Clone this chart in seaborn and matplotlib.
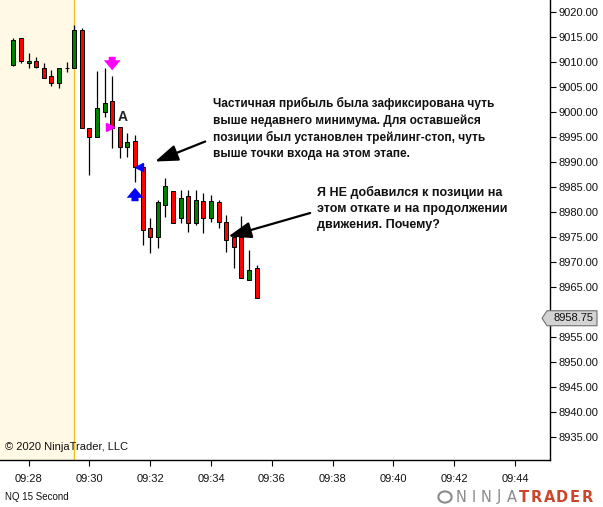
import numpy as np
import pandas as pd
import matplotlib
matplotlib.use("Agg")
import matplotlib.pyplot as plt
import matplotlib.transforms as mtransforms
from matplotlib.patches import Polygon, Circle
import seaborn as sns

# ---------------- data ----------------
times = ["09:27:30", "09:27:45", "09:28:00", "09:28:15", "09:28:30", "09:28:45",
         "09:29:00", "09:29:15", "09:29:30", "09:29:45", "09:30:00", "09:30:15",
         "09:30:30", "09:30:45", "09:31:00", "09:31:15", "09:31:30", "09:31:45",
         "09:32:00", "09:32:15", "09:32:30", "09:32:45", "09:33:00", "09:33:15",
         "09:33:30", "09:33:45", "09:34:00", "09:34:15", "09:34:30", "09:34:45",
         "09:35:00", "09:35:15", "09:35:30"]
opens = [9009.50, 9014.75, 9009.75, 9010.25, 9008.75, 9007.25, 9005.75, 9008.75,
         9008.75, 9016.50, 8996.75, 8995.00, 9000.00, 9002.25, 8997.00, 8993.00,
         8994.25, 8989.00, 8976.75, 8975.00, 8981.50, 8984.25, 8978.75, 8983.25,
         8977.75, 8982.25, 8978.75, 8982.00, 8978.00, 8975.00, 8975.00, 8966.50,
         8968.75]
highs = [9014.75, 9014.75, 9011.75, 9011.00, 9009.75, 9008.50, 9008.75, 9010.00,
         9017.50, 9016.75, 8996.75, 9008.25, 9008.75, 9007.25, 8997.00, 8995.75,
         8995.50, 8989.00, 8978.75, 8982.50, 8986.75, 8984.25, 8984.50, 8984.50,
         8984.50, 8983.75, 8983.50, 8982.50, 8979.50, 8975.50, 8979.25, 8972.50,
         8969.50]
lows = [9009.25, 9009.75, 9008.75, 9008.75, 9006.75, 9005.25, 9004.75, 9008.00,
        9008.75, 8996.75, 8987.50, 8995.00, 8999.00, 8992.75, 8990.75, 8991.00,
        8986.00, 8973.50, 8971.75, 8972.75, 8979.00, 8977.75, 8977.75, 8976.00,
        8977.50, 8975.75, 8978.00, 8976.75, 8972.00, 8968.75, 8966.75, 8966.50,
        8962.75]
closes = [9014.50, 9010.25, 9010.25, 9009.00, 9006.75, 9005.75, 9008.75, 9008.75,
          9016.50, 8996.75, 8995.00, 9000.75, 9001.75, 8996.75, 8993.00, 8994.00,
          8989.00, 8976.50, 8975.00, 8982.00, 8985.25, 8977.75, 8982.75, 8977.75,
          8982.50, 8978.75, 8982.25, 8978.00, 8974.50, 8973.00, 8966.75, 8968.50,
          8962.75]

price_ticks = [9020, 9015, 9010, 9005, 9000, 8995, 8990, 8985, 8980, 8975, 8970,
               8965, 8960, 8955, 8950, 8945, 8940, 8935]
time_ticks = ["09:28", "09:30", "09:32", "09:34", "09:36", "09:38", "09:40",
              "09:42", "09:44"]
last_price = 8958.75
session_start = "09:29:30"

note1 = ("Частичная прибыль была зафиксирована чуть\n"
         "выше недавнего минимума. Для оставшейся\n"
         "позиции был установлен трейлинг-стоп, чуть\n"
         "выше точки входа на этом этапе.")
note2 = ("Я НЕ добавился к позиции на\n"
         "этом откате и на продолжении\n"
         "движения. Почему?")


def to_min(s):
    parts = [int(p) for p in s.split(":")]
    while len(parts) < 3:
        parts.append(0)
    return parts[0] * 60 + parts[1] + parts[2] / 60.0


df = pd.DataFrame({"time": times, "open": opens, "high": highs,
                   "low": lows, "close": closes})
df["x"] = df["time"].map(to_min)
df["up"] = df["close"] >= df["open"]
df["body_lo"] = df[["open", "close"]].min(axis=1)
df["body_h"] = (df["close"] - df["open"]).abs()

# ---------------- style ----------------
sns.set_theme(style="white")
plt.rcParams["font.family"] = ["Liberation Sans", "DejaVu Sans"]

fig = plt.figure(figsize=(6.03, 5.07), dpi=100)
ax = fig.add_axes([0, 47 / 507, 550 / 603, 460 / 507])
ax.set_facecolor("white")

xmin, xmax = 567.06, 585.15
ax.set_xlim(xmin, xmax)
ax.set_ylim(8930.4, 9022.4)

# pre-session shading
ax.axvspan(xmin, to_min(session_start), color="#FFF9E6", zorder=0, lw=0)
ax.axvline(to_min(session_start), color="#F2C21B", lw=1.0, zorder=1)

# candles
w = 0.135
ax.vlines(df["x"], df["low"], df["high"], color="black", lw=0.9, zorder=2)
colors = np.where(df["up"], "#008000", "#FF0000")
ax.bar(df["x"], df["body_h"], bottom=df["body_lo"], width=w, color=colors,
       edgecolor="black", linewidth=0.7, zorder=3)

# markers
t14 = to_min("09:30:45")
t17 = to_min("09:31:30")
t15 = to_min("09:31:00")
off = lambda dx: ax.transData + mtransforms.ScaledTranslation(dx / 100, 0, fig.dpi_scale_trans)
ax.plot([t14], [8997.0], marker=">", color="#FF00FF", ms=6, mec="#FF00FF",
        transform=off(-2), zorder=4)
ax.plot([t17], [8989.0], marker="<", color="#0000FF", ms=6, mec="#0000FF",
        transform=off(4), zorder=4)
ax.annotate("", xy=(t14, 9007.8), xytext=(t14, 9011.6),
            arrowprops=dict(arrowstyle="simple,head_width=1.0,head_length=0.6,tail_width=0.42",
                            color="#FF00FF", lw=0, mutation_scale=12))
ax.annotate("", xy=(t17, 8985.4), xytext=(t17, 8981.6),
            arrowprops=dict(arrowstyle="simple,head_width=1.0,head_length=0.6,tail_width=0.42",
                            color="#0000FF", lw=0, mutation_scale=12))
ax.text(t15 + 0.08, 8999.0, "A", fontsize=10, fontweight="bold", ha="center",
        va="center", color="#222222")

# annotation texts
ax.text(574.06, 8996.7, note1, fontsize=8.6, fontweight="bold", color="#111111",
        ha="left", va="center", linespacing=1.43)
ax.text(577.48, 8980.7, note2, fontsize=9.0, fontweight="bold", color="#111111",
        ha="left", va="center", linespacing=1.45)
arrow_kw = dict(arrowstyle="-|>,head_width=0.5,head_length=1.4",
                color="black", lw=1.6, shrinkA=0, shrinkB=0, mutation_scale=10)
ax.annotate("", xy=(572.16, 8990.1), xytext=(573.81, 8994.1), arrowprops=arrow_kw)
ax.annotate("", xy=(574.57, 8975.1), xytext=(577.26, 8979.8), arrowprops=arrow_kw)

# axes styling
ax.yaxis.tick_right()
ax.set_yticks(price_ticks)
ax.set_yticklabels(["" if v == 8960 else f"{v:.2f}" for v in price_ticks], fontsize=8)
ax.set_xticks([to_min(t) for t in time_ticks])
ax.set_xticklabels(time_ticks, fontsize=8)
ax.tick_params(axis="both", direction="out", length=4, width=0.8, color="black",
               labelcolor="#111111")
ax.tick_params(axis="y", right=True, left=False, labelright=True, labelleft=False, pad=2)
ax.tick_params(axis="x", bottom=True, pad=6)
for s in ["top", "left"]:
    ax.spines[s].set_visible(False)
for s in ["right", "bottom"]:
    ax.spines[s].set_visible(True)
    ax.spines[s].set_color("black")
    ax.spines[s].set_linewidth(1.0)
ax.grid(False)

# last price marker
trans = mtransforms.blended_transform_factory(ax.transAxes, ax.transData)
dx = 1 / 550
poly = Polygon([(1 - 8 * dx, last_price), (1 - 3 * dx, last_price + 1.5),
                (1 + 47 * dx, last_price + 1.5), (1 + 47 * dx, last_price - 1.5),
                (1 - 3 * dx, last_price - 1.5)],
               closed=True, transform=trans, facecolor="#D3D3D3", edgecolor="#707070",
               lw=0.8, clip_on=False, zorder=10)
ax.add_patch(poly)
ax.text(1 + 3 * dx, last_price, f"{last_price:.2f}", transform=trans, fontsize=8,
        va="center", ha="left", color="#111111", zorder=11, clip_on=False)

# footer texts
fig.text(5 / 603, 1 - 447 / 507, "© 2020 NinjaTrader, LLC", fontsize=8,
         va="center", ha="left", color="#111111")
fig.text(5 / 603, 1 - 497 / 507, "NQ 15 Second", fontsize=7, va="center",
         ha="left", color="#111111")
for i, ch in enumerate("NINJATRADER"):
    is_trader = i >= 5
    fig.text((461 + i * 12.6) / 603, 1 - 497 / 507, ch, fontsize=10.5, va="center",
             ha="center", color="#C9472B" if is_trader else "#8A8A8A",
             fontweight="bold" if is_trader else "normal", family="DejaVu Sans")
fig.patches.append(Circle((445 / 603, 1 - 497 / 507), 0.011, transform=fig.transFigure,
                          facecolor="none", edgecolor="#8A8A8A", lw=1.5))

fig.savefig("out.png", dpi=100, facecolor="white")
